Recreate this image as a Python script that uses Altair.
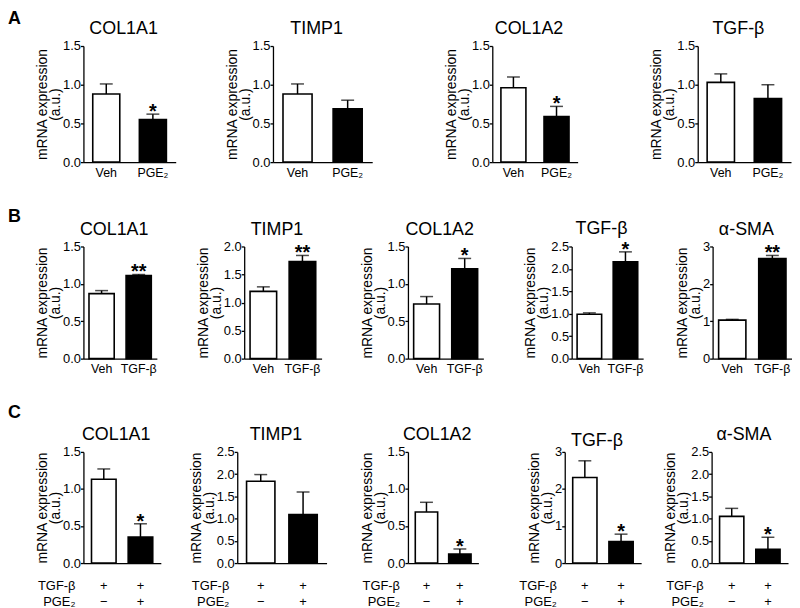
import altair as alt
import pandas as pd

FONT = "Liberation Sans"

# ---------------- data ----------------
KINDS = ["control", "treated"]

A_GROUPS = ["Veh", "PGE₂"]
A_GENES = ["COL1A1", "TIMP1", "COL1A2", "TGF-β"]
A_CTRL = [0.88, 0.88, 0.96, 1.03]
A_CTRL_SEM = [0.13, 0.13, 0.14, 0.11]
A_TRT = [0.55, 0.69, 0.59, 0.82]
A_TRT_SEM = [0.07, 0.11, 0.13, 0.18]
A_SIG = ["*", "", "*", ""]
A_YMAX = [1.5, 1.5, 1.5, 1.5]
A_YSTEP = [0.5, 0.5, 0.5, 0.5]

B_GROUPS = ["Veh", "TGF-β"]
B_GENES = ["COL1A1", "TIMP1", "COL1A2", "TGF-β", "α-SMA"]
B_CTRL = [0.87, 1.20, 0.73, 0.99, 1.03]
B_CTRL_SEM = [0.04, 0.08, 0.10, 0.03, 0.02]
B_TRT = [1.11, 1.73, 1.20, 2.16, 2.68]
B_TRT_SEM = [0.015, 0.11, 0.14, 0.22, 0.08]
B_SIG = ["**", "**", "*", "*", "**"]
B_YMAX = [1.5, 2.0, 1.5, 2.5, 3]
B_YSTEP = [0.5, 0.5, 0.5, 0.5, 1]

C_GROUPS = ["TGF-β", "TGF-β + PGE₂"]
C_ROW_LABELS = ["TGF-β", "PGE₂"]
C_TGF_SIGNS = ["+", "+"]
C_PGE_SIGNS = ["−", "+"]
C_GENES = ["COL1A1", "TIMP1", "COL1A2", "TGF-β", "α-SMA"]
C_CTRL = [1.13, 1.84, 0.69, 2.31, 1.05]
C_CTRL_SEM = [0.14, 0.15, 0.13, 0.45, 0.18]
C_TRT = [0.35, 1.09, 0.12, 0.58, 0.31]
C_TRT_SEM = [0.18, 0.51, 0.07, 0.20, 0.27]
C_SIG = ["*", "", "*", "*", "*"]
C_YMAX = [1.5, 2.5, 1.5, 3, 2.5]
C_YSTEP = [0.5, 0.5, 0.5, 1, 0.5]

ROW_LETTERS = ["A", "B", "C"]

# ---------------- layout (styling only) ----------------
A_WIDTHS = [93, 123, 109, 94]
A_AXLEN = [93, 100, 86, 94]
A_TITLE_DY = [0, 0, 0, 0]
B_WIDTHS = [92, 95, 95, 72, 80]
B_AXLEN = [74, 78, 76, 72, 80]
B_TITLE_DY = [0, 0, 0, 0, 0]
C_WIDTHS = [84, 101, 87, 77, 77]
C_AXLEN = [78, 90, 71, 77, 77]
C_TITLE_DY = [0, 0, 0, 6, 0]


def make_panel(gene, groups, ctrl, ctrl_sem, trt, trt_sem, sig, ymax, ystep,
               width, axis_len, height, pi, po, title_dy, row_c=False):
    n = int(round(ymax / ystep))
    ticks = [round(i * ystep, 2) for i in range(n + 1)]
    fmt = ".1f" if ystep < 1 else "d"
    df = pd.DataFrame({
        "group": groups,
        "kind": KINDS,
        "mean": [ctrl, trt],
        "top": [ctrl + ctrl_sem, trt + trt_sem],
        "sig": ["", sig],
        "tgf": C_TGF_SIGNS,
        "pge": C_PGE_SIGNS,
    })
    xscale = alt.Scale(domain=groups, range=[0, axis_len],
                       paddingInner=pi, paddingOuter=po)
    xaxis = alt.Axis(title=None, ticks=False, labels=not row_c, labelAngle=0,
                     labelFontSize=12.5, labelPadding=4, domain=True)
    x = alt.X("group:N", scale=xscale, axis=xaxis, sort=groups)
    yscale = alt.Scale(domain=[0, ymax], nice=False, zero=True)
    yaxis = alt.Axis(values=ticks, format=fmt, title=["mRNA expression", "(a.u.)"],
                     grid=False, tickSize=3, labelPadding=0)
    base = alt.Chart(df)
    bars = base.mark_bar(stroke="black", strokeWidth=1.6).encode(
        x=x,
        y=alt.Y("mean:Q", scale=yscale, axis=yaxis),
        fill=alt.Fill("kind:N", scale=alt.Scale(domain=KINDS, range=["white", "black"]),
                      legend=None),
    )
    err = base.mark_rule(color="black", strokeWidth=1.5).encode(
        x=x, y=alt.Y("mean:Q", scale=yscale, axis=yaxis), y2="top:Q")
    cap = base.mark_tick(color="black", thickness=1.5, size=13).encode(
        x=x, y=alt.Y("top:Q", scale=yscale, axis=yaxis))
    star = base.mark_text(fontSize=20, fontWeight="bold", baseline="alphabetic", dy=4).encode(
        x=x, y=alt.Y("top:Q", scale=yscale, axis=yaxis), text="sig:N")
    layers = [bars, err, cap, star]
    if row_c:
        layers.append(base.mark_text(fontSize=13, baseline="middle").encode(
            x=x, y=alt.value(height + 23), text="tgf:N"))
        layers.append(base.mark_text(fontSize=13, baseline="middle").encode(
            x=x, y=alt.value(height + 39), text="pge:N"))
        for i, lab in enumerate(C_ROW_LABELS):
            layers.append(
                alt.Chart(pd.DataFrame({"t": [lab]})).mark_text(
                    fontSize=13, baseline="middle", align="right").encode(
                    x=alt.value(-8), y=alt.value(height + 23 + 16 * i), text="t:N"))
    title = alt.TitleParams(gene, fontSize=18, fontWeight="normal", anchor="middle",
                            frame="group", dx=(axis_len - width) / 2 - 6, dy=title_dy,
                            offset=2)
    return alt.layer(*layers).properties(width=width, height=height, title=title)


def make_row(letter, genes, groups, ctrl, ctrl_sem, trt, trt_sem, sig, ymax, ystep,
             widths, axlens, title_dys, height, spacing, pi, po, row_c=False, letter_dy=0):
    panels = [
        make_panel(genes[i], groups, ctrl[i], ctrl_sem[i], trt[i], trt_sem[i], sig[i],
                   ymax[i], ystep[i], widths[i], axlens[i], height, pi, po,
                   title_dys[i], row_c)
        for i in range(len(genes))
    ]
    return alt.hconcat(*panels, spacing=spacing, bounds="flush").properties(
        title=alt.TitleParams(letter, anchor="start", frame="group", dx=-76, dy=letter_dy,
                              fontSize=18, fontWeight="bold", offset=0))


row_a = make_row(ROW_LETTERS[0], A_GENES, A_GROUPS, A_CTRL, A_CTRL_SEM, A_TRT, A_TRT_SEM,
                 A_SIG, A_YMAX, A_YSTEP, A_WIDTHS, A_AXLEN, A_TITLE_DY, 117, 98, 0.42, 0.2,
                 letter_dy=8)
row_b = make_row(ROW_LETTERS[1], B_GENES, B_GROUPS, B_CTRL, B_CTRL_SEM, B_TRT, B_TRT_SEM,
                 B_SIG, B_YMAX, B_YSTEP, B_WIDTHS, B_AXLEN, B_TITLE_DY, 113, 70, 0.32, 0.15,
                 letter_dy=6)
row_c = make_row(ROW_LETTERS[2], C_GENES, C_GROUPS, C_CTRL, C_CTRL_SEM, C_TRT, C_TRT_SEM,
                 C_SIG, C_YMAX, C_YSTEP, C_WIDTHS, C_AXLEN, C_TITLE_DY, 112, 71, 0.33, 0.22,
                 row_c=True, letter_dy=-4)

chart = alt.vconcat(row_a, row_b, row_c, spacing=29).properties(
    padding=0
).configure(
    font=FONT
).configure_view(stroke=None).configure_axis(
    labelFont=FONT, titleFont=FONT, labelColor="black", titleColor="black",
    domainColor="black", tickColor="black", domainWidth=1.3, tickWidth=1.3,
    labelFontSize=13, titleFontSize=14, titleFontWeight="normal",
    titlePadding=0, titleLineHeight=13,
).configure_title(font=FONT, color="black").configure_text(font=FONT, color="black")

chart.save("out.html", embed_options={"renderer": "svg", "actions": False})
